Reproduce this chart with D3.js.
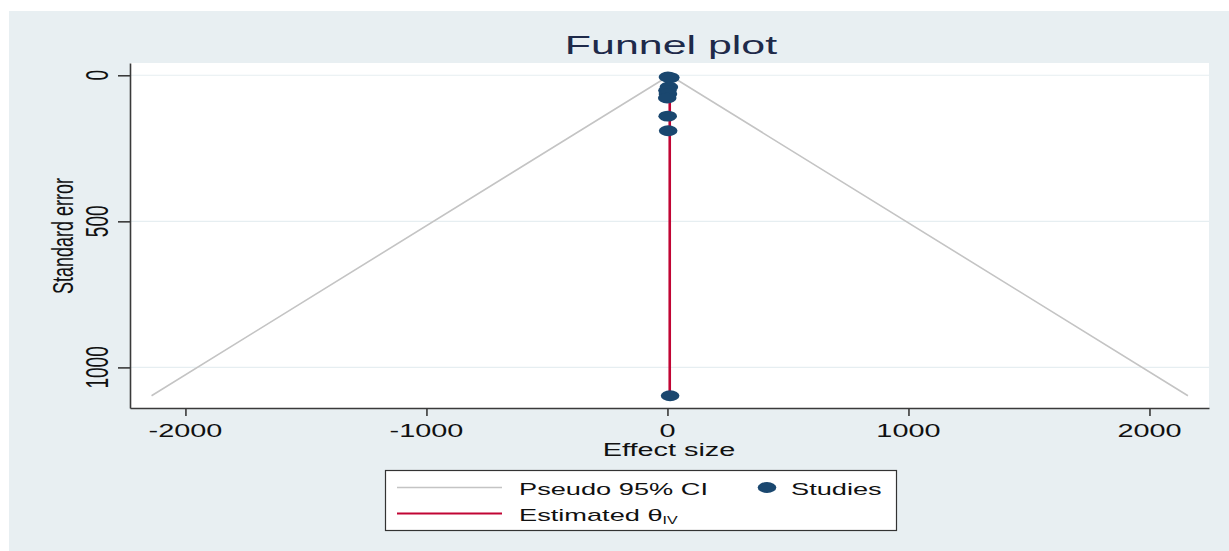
<!DOCTYPE html>
<html><head><meta charset="utf-8">
<script src="https://cdn.jsdelivr.net/npm/d3@7"></script>
<style>
html,body{margin:0;padding:0;background:#fff;}
svg{display:block;font-family:"Liberation Sans",Arial,sans-serif;}
</style></head>
<body>
<script>
// ---- data ----
const studyEffect = [12, 6, 0, 2, -1, 1, 3, 2, 11];
const studySE     = [8, 40, 52, 64, 78, 140, 190, 6, 1097];
const thetaIV = 9.5;
const seMax = 1097;
const xTicks = [-2000, -1000, 0, 1000, 2000];
const yTicks = [0, 500, 1000];
const titleText = "Funnel plot";
const xLabel = "Effect size";
const yLabel = "Standard error";
const legendItems = ["Pseudo 95% CI", "Studies", "Estimated θ", "IV"];

const W = 1229, H = 551;
const svg = d3.select("body").append("svg").attr("width", W).attr("height", H);
const SX = 1.65;

// background panel
svg.append("rect").attr("x", 9).attr("y", 11).attr("width", W - 9).attr("height", H - 11).attr("fill", "#e8eff2");

const plot = {l: 130, r: 1209, t: 63, b: 408};
svg.append("rect").attr("x", plot.l).attr("y", plot.t).attr("width", plot.r - plot.l).attr("height", plot.b - plot.t).attr("fill", "#fff");

const x = d3.scaleLinear().domain([-2230, 2247]).range([plot.l, plot.r]);
const y = d3.scaleLinear().domain([-42, 1139]).range([plot.t, plot.b]);

// gridlines
svg.append("g").selectAll("line").data(yTicks).join("line")
  .attr("x1", plot.l).attr("x2", plot.r)
  .attr("y1", d => y(d)).attr("y2", d => y(d))
  .attr("stroke", "#e6eef1").attr("stroke-width", 1.2);

// funnel
const funnel = [[thetaIV - 1.96 * seMax, seMax], [thetaIV, 0], [thetaIV + 1.96 * seMax, seMax]];
svg.append("path").datum(funnel)
  .attr("d", d3.line().x(d => x(d[0])).y(d => y(d[1])))
  .attr("fill", "none").attr("stroke", "#c4c4c4").attr("stroke-width", 1.6);

// estimated line
svg.append("line")
  .attr("x1", x(thetaIV)).attr("x2", x(thetaIV))
  .attr("y1", y(0)).attr("y2", y(seMax))
  .attr("stroke", "#c10534").attr("stroke-width", 2.6);

// studies
svg.append("g").selectAll("ellipse").data(studyEffect.map((e, i) => [e, studySE[i]])).join("ellipse")
  .attr("cx", d => x(d[0])).attr("cy", d => y(d[1]))
  .attr("rx", 9.3).attr("ry", 5.4).attr("fill", "#1a476f");

// axes
const axCol = "#3a3a3a";
const gy = svg.append("g").attr("transform", `translate(${plot.l},0)`)
  .call(d3.axisLeft(y).tickValues(yTicks).tickSize(12).tickSizeOuter(0).tickFormat(""));
const gx = svg.append("g").attr("transform", `translate(0,${plot.b})`)
  .call(d3.axisBottom(x).tickValues(xTicks).tickSize(8).tickSizeOuter(0).tickFormat(""));
[gx, gy].forEach(g => {
  g.select(".domain").attr("stroke", axCol).attr("stroke-width", 1.6);
  g.selectAll(".tick line").attr("stroke", axCol).attr("stroke-width", 1.6);
});

// tick labels
svg.append("g").selectAll("text").data(xTicks).join("text")
  .attr("transform", d => `translate(${x(d)},437) scale(${SX},1)`)
  .attr("text-anchor", "middle").attr("font-size", 17.5).attr("fill", "#111")
  .text(d => d);
svg.append("g").selectAll("text").data(yTicks).join("text")
  .attr("transform", d => `translate(108,${y(d)}) scale(${SX},1) rotate(-90)`)
  .attr("text-anchor", "middle").attr("font-size", 19).attr("fill", "#111")
  .text(d => d);

// titles
svg.append("text").attr("transform", `translate(671,54) scale(${SX},1)`)
  .attr("text-anchor", "middle").attr("font-size", 26).attr("fill", "#1e2a4a").text(titleText);
svg.append("text").attr("transform", `translate(669,455.5) scale(${SX},1)`)
  .attr("text-anchor", "middle").attr("font-size", 17.5).attr("fill", "#111").text(xLabel);
svg.append("text").attr("transform", `translate(73,236) scale(${SX},1) rotate(-90)`)
  .attr("text-anchor", "middle").attr("font-size", 18).attr("fill", "#111").text(yLabel);

// legend
const lg = svg.append("g");
lg.append("rect").attr("x", 385.5).attr("y", 470.5).attr("width", 511).attr("height", 60)
  .attr("fill", "#fff").attr("stroke", "#333").attr("stroke-width", 1.2);
lg.append("line").attr("x1", 397).attr("x2", 502).attr("y1", 487.5).attr("y2", 487.5)
  .attr("stroke", "#c4c4c4").attr("stroke-width", 1.6);
lg.append("line").attr("x1", 397).attr("x2", 502).attr("y1", 513.5).attr("y2", 513.5)
  .attr("stroke", "#c10534").attr("stroke-width", 2);
lg.append("ellipse").attr("cx", 767).attr("cy", 487.5).attr("rx", 9.3).attr("ry", 5.4).attr("fill", "#1a476f");
lg.append("text").attr("transform", `translate(519,495) scale(1.6,1)`)
  .attr("font-size", 17).attr("fill", "#111").text(legendItems[0]);
lg.append("text").attr("transform", `translate(791,495) scale(1.6,1)`)
  .attr("font-size", 17).attr("fill", "#111").text(legendItems[1]);
const t3 = lg.append("text").attr("transform", `translate(519,521) scale(1.6,1)`)
  .attr("font-size", 17).attr("fill", "#111");
t3.append("tspan").text(legendItems[2]);
t3.append("tspan").attr("font-size", 10).attr("dy", 3).text(legendItems[3]);
</script>
</body></html>
